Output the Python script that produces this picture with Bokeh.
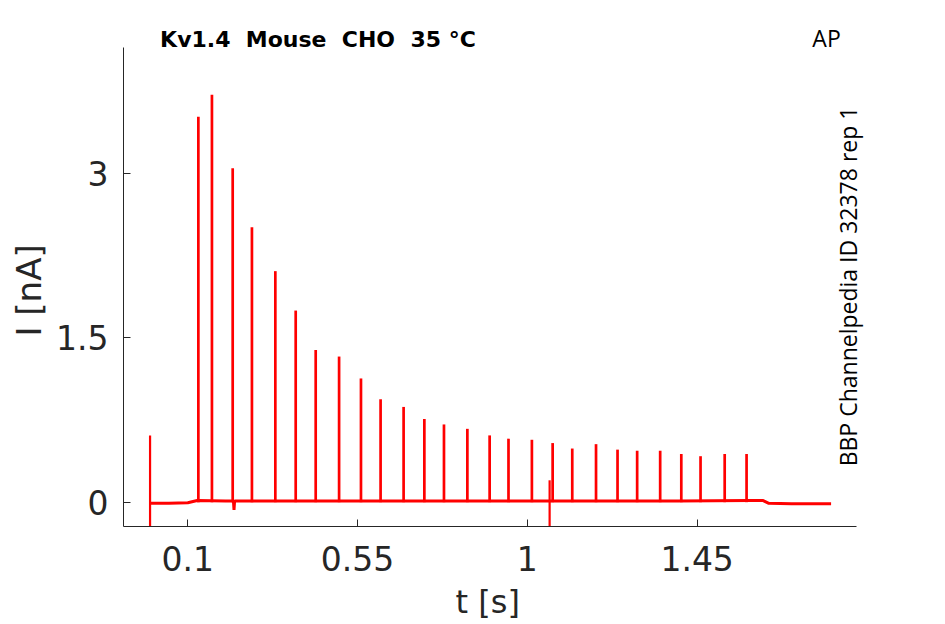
from bokeh.plotting import figure
from bokeh.models import Label, FixedTicker, CustomJSTickFormatter, Range1d, Title
from bokeh.embed import file_html
from bokeh.resources import INLINE
import math

# Spike train (time in s, peak current in nA)
spike_t = [0.128, 0.164, 0.219, 0.270, 0.332, 0.386, 0.439, 0.501, 0.559, 0.611,
           0.672, 0.727, 0.779, 0.841, 0.900, 0.950, 1.012, 1.067, 1.119, 1.182,
           1.239, 1.291, 1.352, 1.408, 1.459, 1.523, 1.581]
spike_peak = [3.52, 3.72, 3.05, 2.51, 2.11, 1.75, 1.39, 1.33, 1.13, 0.94,
              0.87, 0.76, 0.71, 0.67, 0.61, 0.58, 0.57, 0.54, 0.49, 0.53,
              0.48, 0.47, 0.47, 0.44, 0.42, 0.44, 0.44]

# Holding current baseline between spikes (incl. the small dip after the 3rd spike)
base_t = [0.0, 0.05, 0.10, 0.125, 0.20, 0.221, 0.2225, 0.224, 0.60, 1.00, 1.40,
          1.59, 1.625, 1.64, 1.70, 1.805]
base_i = [-0.01, -0.01, -0.005, 0.015, 0.01, 0.01, -0.07, 0.01, 0.01, 0.01, 0.01,
          0.015, 0.015, -0.01, -0.015, -0.015]

# Stimulus artifacts
artifact_t = [0.0, 1.059]
artifact_top = [0.61, 0.20]
artifact_bottom = [-0.27, -0.355]

x_ticks = [0.1, 0.55, 1, 1.45]
y_ticks = [0, 1.5, 3]

# visible extent of the axes
x_axis_bounds = (-0.0704, 1.872)
y_axis_bounds = (-0.222, 4.155)

TEXT_COLOR = "#262626"
TRACE_COLOR = "#ff0000"


def create_trace_plot():
    # the frame reaches past the axis ends so the corner texts are not clipped
    p = figure(frame_width=817, frame_height=521,
               min_border_left=123, min_border_right=5,
               min_border_top=5, min_border_bottom=98,
               x_range=Range1d(-0.0704, 2.095), y_range=Range1d(-0.222, 4.536),
               output_backend="svg", toolbar_location=None)

    p.outline_line_color = None
    p.xgrid.visible = False
    p.ygrid.visible = False

    # trace
    p.line(base_t, base_i, line_color=TRACE_COLOR, line_width=3)
    p.segment(x0=spike_t, y0=[0] * len(spike_t), x1=spike_t, y1=spike_peak,
              line_color=TRACE_COLOR, line_width=2.7)
    p.segment(x0=artifact_t, y0=artifact_bottom, x1=artifact_t, y1=artifact_top,
              line_color=TRACE_COLOR, line_width=2.2)

    # axes styled like the original export
    for ax in (p.xaxis[0], p.yaxis[0]):
        ax.axis_line_color = TEXT_COLOR
        ax.major_tick_line_color = TEXT_COLOR
        ax.major_tick_in = 7
        ax.major_tick_out = 0
        ax.minor_tick_line_color = None
        ax.major_label_text_font = "DejaVu Sans"
        ax.major_label_text_font_size = "33px"
        ax.major_label_text_color = TEXT_COLOR
        ax.formatter = CustomJSTickFormatter(code="return tick.toString()")

    p.xaxis.ticker = FixedTicker(ticks=x_ticks)
    p.yaxis.ticker = FixedTicker(ticks=y_ticks)
    p.xaxis.bounds = x_axis_bounds
    p.yaxis.bounds = y_axis_bounds
    p.xaxis.major_label_standoff = 19
    p.yaxis.major_label_standoff = 15

    # axis labels as titles so they sit under the axis bounds
    # rather than the middle of the (wider) frame
    p.add_layout(Title(text="t [s]", align="left", offset=332, standoff=15,
                       text_font="DejaVu Sans", text_font_size="32px",
                       text_font_style="normal", text_color=TEXT_COLOR), "below")
    p.add_layout(Title(text="I [nA]", align="left", offset=190,
                       text_font="DejaVu Sans", text_font_size="34px",
                       text_font_style="normal", text_color=TEXT_COLOR), "left")

    # annotations
    p.add_layout(Label(x=0.445, y=4.222, text="Kv1.4\u00a0 Mouse\u00a0 CHO\u00a0 35 °C",
                       text_font="DejaVu Sans", text_font_style="bold",
                       text_font_size="22px", text_align="center",
                       text_baseline="middle", text_color="black"))
    p.add_layout(Label(x=1.793, y=4.235, text="AP",
                       text_font="Open Sans", text_font_size="23px",
                       text_align="center", text_baseline="middle",
                       text_color="black"))
    p.add_layout(Label(x=1.851, y=1.97, text="BBP Channelpedia ID 32378 rep 1",
                       angle=math.pi / 2, text_font="Open Sans",
                       text_font_size="23px", text_align="center",
                       text_baseline="middle", text_color="black"))
    return p


if __name__ == "__main__":
    p = create_trace_plot()
    open("out.html", "w").write(file_html(p, INLINE))
